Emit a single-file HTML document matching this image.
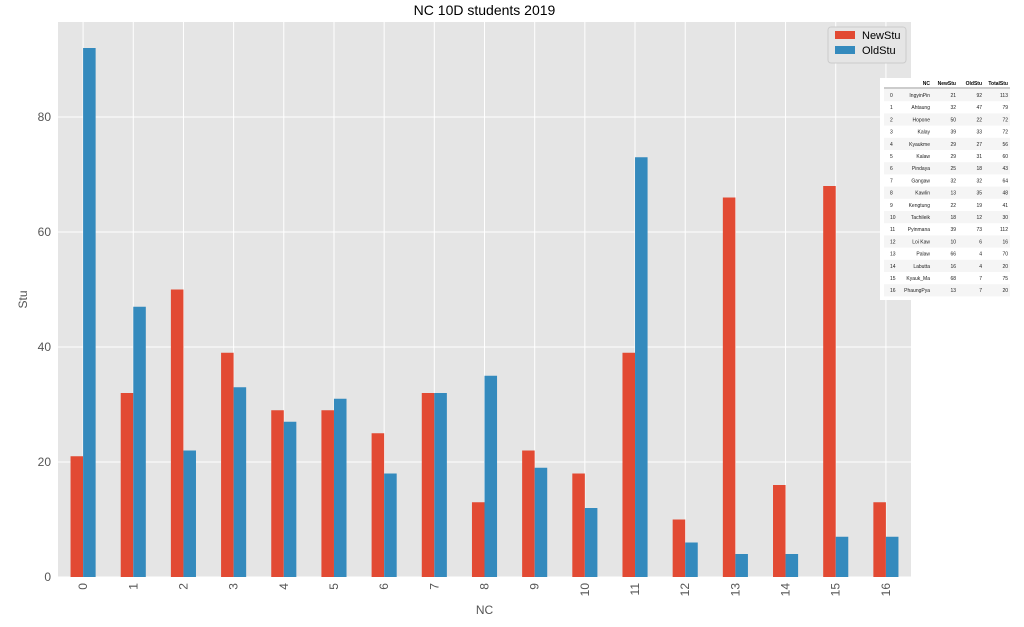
<!DOCTYPE html>
<html><head><meta charset="utf-8"><style>
body{margin:0;background:#fff;font-family:"Liberation Sans",sans-serif;}
svg{display:block}
</style></head><body>
<svg id="c" width="1024" height="627"></svg>
<script>
const categories=["0","1","2","3","4","5","6","7","8","9","10","11","12","13","14","15","16"];
const names=["IngyinPin","Ahtaung","Hopone","Kalay","Kyaukme","Kalaw","Pindaya","Gangaw","Kawlin","Kengtung","Tachileik","Pyinmana","Loi Kaw","Palaw","Labutta","Kyauk_Ma","PhaungPya"];
const newStu=[21,32,50,39,29,29,25,32,13,22,18,39,10,66,16,68,13];
const oldStu=[92,47,22,33,27,31,18,32,35,19,12,73,6,4,4,7,7];
const yTicks=[0,20,40,60,80];
const NS="http://www.w3.org/2000/svg";
const svg=document.getElementById('c');
const L=58,R=911,T=22,B=577;
const bw=(R-L)/categories.length;
const x=i=>L+bw*(i+0.5);
const y=v=>B-v*5.75;
function el(t,a,txt){const e=document.createElementNS(NS,t);for(const k in a)e.setAttribute(k,a[k]);if(txt!==undefined)e.textContent=txt;svg.appendChild(e);return e;}
let e=el('rect',{x:L,y:T,width:R-L,height:B-T,fill:'#e5e5e5'});

yTicks.forEach(v=>{
 e=el('line',{x1:L,x2:R,y1:y(v),y2:y(v),stroke:'#fff','stroke-width':1});
 
 e=el('text',{x:L-7,y:y(v)+4,'text-anchor':'end','font-size':12,fill:'#555'},String(v));
 
});
categories.forEach((c,i)=>{
 e=el('line',{x1:x(i),x2:x(i),y1:T,y2:B,stroke:'#fff','stroke-width':1});
 
});
const hw=bw*0.25;
categories.forEach((c,i)=>{
 e=el('rect',{x:x(i)-hw,y:y(newStu[i]),width:hw,height:B-y(newStu[i]),fill:'#e24a33'});
 
 e=el('rect',{x:x(i),y:y(oldStu[i]),width:hw,height:B-y(oldStu[i]),fill:'#348abd'});
 
 e=el('text',{x:0,y:0,'font-size':12,fill:'#555','text-anchor':'end',transform:`translate(${x(i)+4},${B+6}) rotate(-90)`},c);
 
});
e=el('text',{x:(L+R)/2,y:15,'text-anchor':'middle','font-size':14,fill:'#000'},'NC 10D students 2019');

e=el('text',{x:(L+R)/2,y:614,'text-anchor':'middle','font-size':12,fill:'#555'},'NC');

e=el('text',{x:0,y:0,'text-anchor':'middle','font-size':12,fill:'#555',transform:`translate(27,${(T+B)/2}) rotate(-90)`},'Stu');

// legend
e=el('rect',{x:828,y:27,width:78,height:36,fill:'#e5e5e5',stroke:'#ccc',rx:3});

[['NewStu','#e24a33'],['OldStu','#348abd']].forEach((s,k)=>{
 e=el('rect',{x:835,y:31+k*15,width:20,height:8,fill:s[1]});
 
 e=el('text',{x:862,y:39+k*15,'font-size':11,fill:'#000'},s[0]);
 
});
// table
e=el('rect',{x:880,y:78,width:132,height:222,fill:'#fff'});

const ty0=82, rh=12.2;
[['NC',930],['NewStu',956],['OldStu',982],['TotalStu',1008]].forEach(h=>{
 e=el('text',{x:h[1],y:ty0+3,'font-size':5,'font-weight':'bold','text-anchor':'end',fill:'#000'},h[0]);
 
});
el('line',{x1:884,x2:1010,y1:ty0+6,y2:ty0+6,stroke:'#333','stroke-width':0.6});
names.forEach((n,i)=>{
 const ry=ty0+7+i*rh;
 if(i%2==0){e=el('rect',{x:884,y:ry,width:126,height:rh,fill:'#f5f5f5'});}
 const vals=[[String(i),890,'start'],[n,930,'end'],[String(newStu[i]),956,'end'],[String(oldStu[i]),982,'end'],[String(newStu[i]+oldStu[i]),1008,'end']];
 vals.forEach(v=>{
  e=el('text',{x:v[1],y:ry+8,'font-size':5,'text-anchor':v[2],fill:'#222'},v[0]);
  
 });
});
</script>
</body></html>
